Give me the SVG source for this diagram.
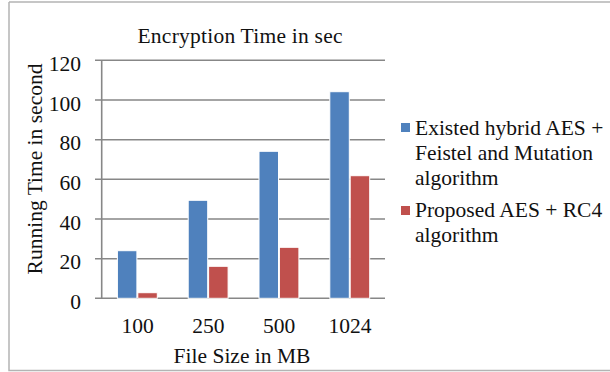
<svg xmlns="http://www.w3.org/2000/svg" width="610" height="372" viewBox="0 0 610 372">
  <style>
    text { font-family: "Liberation Serif", "Times New Roman", serif; font-size: 21.5px; fill: #111; }
    .grid { stroke: #878787; stroke-width: 1.6; fill: none; }
    .frame { stroke: #b4b4b4; stroke-width: 1.5; fill: none; }
    .s1 { fill: #4f81bd; stroke: #ffffff; stroke-width: 1; }
    .s2 { fill: #c0504d; stroke: #ffffff; stroke-width: 1; }
    .ylab { text-anchor: end; }
    .xlab { text-anchor: middle; }
  </style>

  <!-- chart frame -->
  <path class="frame" d="M9,2 H610 M9,2 V370.5 H610"/>

  <!-- title -->
  <text x="137.5" y="43" textLength="205" lengthAdjust="spacing">Encryption Time in sec</text>

  <!-- gridlines, ticks and value axis -->
  <g id="axes">
    <path class="grid" d="M95,60.3 H385 M95,100 H385 M95,139.7 H385 M95,179.3 H385 M95,219 H385 M95,258.7 H385 M95,298.3 H385"/>
    <path class="grid" d="M101.7,60.3 V298.3"/>
    <text class="ylab" x="81" y="70.8">120</text>
    <text class="ylab" x="81" y="110.5">100</text>
    <text class="ylab" x="81" y="150.2">80</text>
    <text class="ylab" x="81" y="189.8">60</text>
    <text class="ylab" x="81" y="229.5">40</text>
    <text class="ylab" x="81" y="269.2">20</text>
    <text class="ylab" x="81" y="308.8">0</text>
    <text class="xlab" x="137.5" y="333.3">100</text>
    <text class="xlab" x="208.3" y="333.3">250</text>
    <text class="xlab" x="279.1" y="333.3">500</text>
    <text class="xlab" x="349.9" y="333.3">1024</text>
    <text class="xlab" x="242" y="363.3">File Size in MB</text>
    <text class="xlab" transform="translate(41.5,169) rotate(-90)">Running Time in second</text>
  </g>

  <!-- bars: series 1 (existed hybrid) -->
  <g id="series-existed">
    <rect class="s1" x="117.4" y="250.7" width="19.5" height="47.6"/>
    <rect class="s1" x="188.2" y="200.3" width="19.5" height="98"/>
    <rect class="s1" x="259" y="151.3" width="19.5" height="147"/>
    <rect class="s1" x="329.8" y="91.7" width="19.5" height="206.6"/>
  </g>

  <!-- bars: series 2 (proposed) -->
  <g id="series-proposed">
    <rect class="s2" x="137.8" y="292.7" width="19.5" height="5.6"/>
    <rect class="s2" x="208.6" y="266.3" width="19.5" height="32"/>
    <rect class="s2" x="279.4" y="247.3" width="19.5" height="51"/>
    <rect class="s2" x="350.2" y="175.7" width="19.5" height="122.6"/>
  </g>

  <!-- legend -->
  <g id="legend">
    <rect x="401" y="123" width="9" height="9" fill="#4f81bd"/>
    <text x="415" y="135">Existed hybrid AES +</text>
    <text x="415" y="160">Feistel and Mutation</text>
    <text x="415" y="185">algorithm</text>
    <rect x="401" y="206" width="9" height="9" fill="#c0504d"/>
    <text x="415" y="216.7">Proposed AES + RC4</text>
    <text x="415" y="241.5">algorithm</text>
  </g>
</svg>
